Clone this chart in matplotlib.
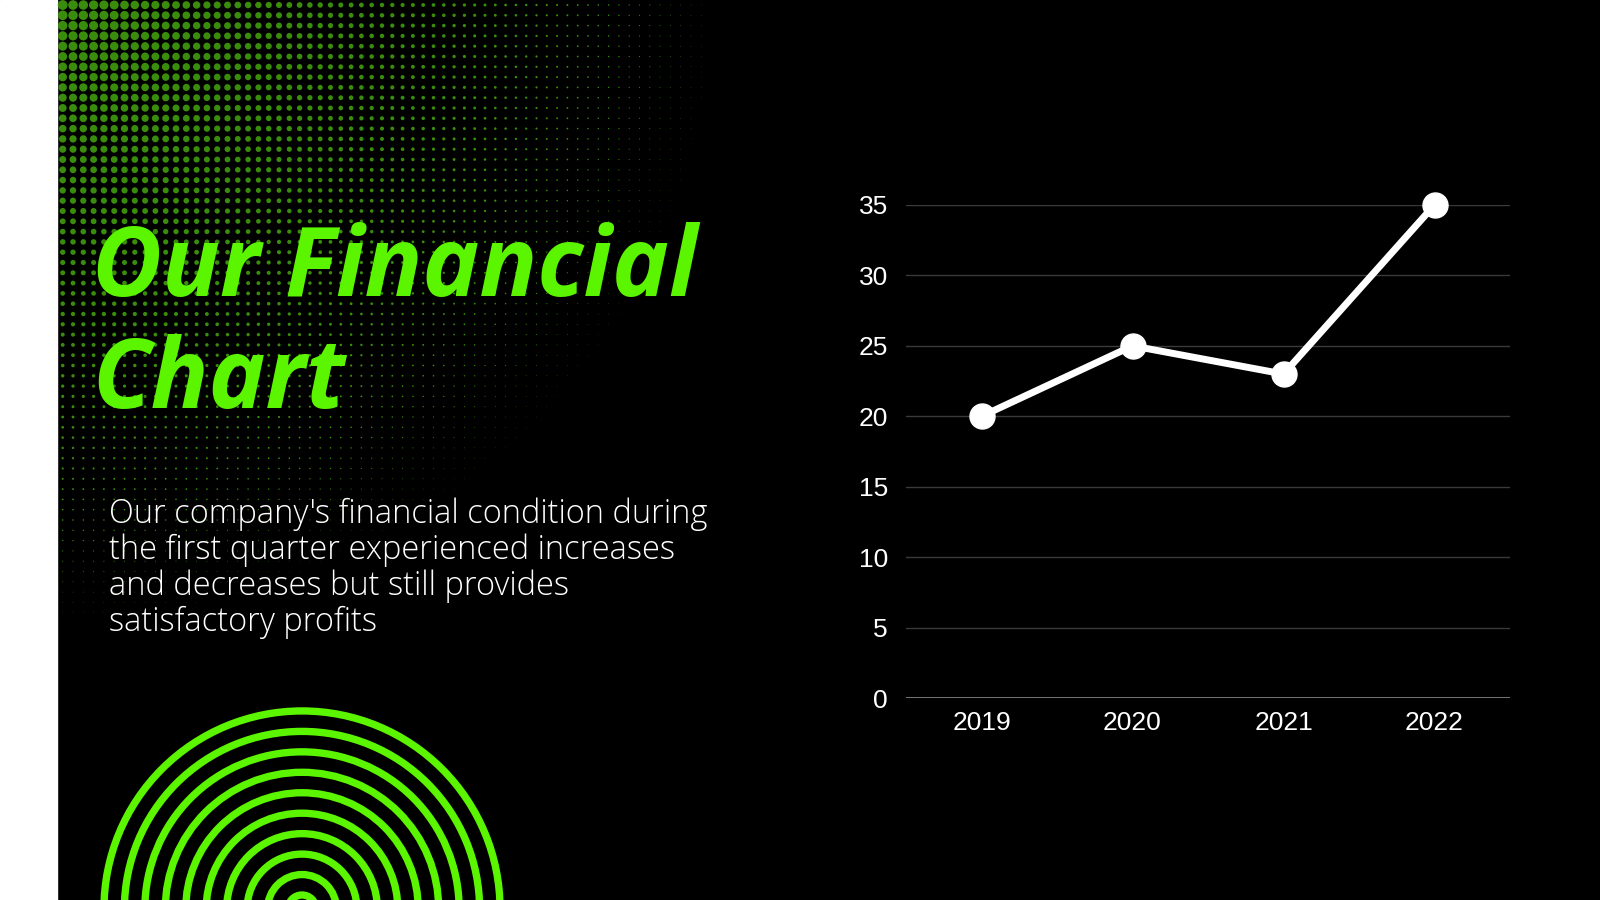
import numpy as np
import matplotlib
matplotlib.use("Agg")
import matplotlib.pyplot as plt
from matplotlib.patches import Rectangle, Circle

# chart data
years = ["2019", "2020", "2021", "2022"]
values = [20, 25, 23, 35]
yticks = [0, 5, 10, 15, 20, 25, 30, 35]

title_lines = ["Our Financial", "Chart"]
body_lines = [
    "Our company's financial condition during",
    "the first quarter experienced increases",
    "and decreases but still provides",
    "satisfactory profits",
]

GREEN = "#5cf500"
DOT_GREEN = "#3a8c0c"

fig = plt.figure(figsize=(16, 9), dpi=100, facecolor="black")

# background layer in pixel coordinates
bg = fig.add_axes([0, 0, 1, 1])
bg.set_xlim(0, 1600)
bg.set_ylim(900, 0)
bg.axis("off")
bg.add_patch(Rectangle((0, 0), 57, 900, color="white", zorder=0))

# halftone dots fading from the top left corner
gx, gy = np.meshgrid(np.arange(62.7, 800, 10.3), np.arange(5, 760, 10.3))
d = np.sqrt(((gx - 57) / 740.0) ** 2 + (gy / 700.0) ** 2)
r = 5.0 * np.clip(1 - d, 0, None) ** 1.4
keep = r > 0.25
bg.scatter(gx[keep], gy[keep], s=(1.44 * r[keep]) ** 2, color=DOT_GREEN,
           linewidths=0, zorder=1)

# concentric rings at bottom left
for k in range(10):
    rad = 14 + k * 20.45
    bg.add_patch(Circle((302, 909), rad, fill=False, edgecolor=GREEN,
                        linewidth=5.3, zorder=2))

# title
for i, line in enumerate(title_lines):
    bg.text(92, 296 + i * 112, line, color=GREEN, fontsize=69,
            family="Open Sans", weight="bold", style="italic",
            ha="left", va="baseline", zorder=3)

# body text
for i, line in enumerate(body_lines):
    bg.text(109, 523 + i * 36, line, color="white", fontsize=23.5,
            family="Open Sans", weight="light",
            ha="left", va="baseline", zorder=3)

# line chart
ax = fig.add_axes([906 / 1600, 1 - 698 / 900, 604 / 1600, (698 - 205) / 900])
ax.set_facecolor("none")
x = np.arange(len(years))
ax.set_xlim(-0.5, len(years) - 0.5)
ax.set_ylim(0, 35)
ax.set_yticks(yticks)
ax.set_xticks(x)
ax.set_xticklabels(years)
for s in ax.spines.values():
    s.set_visible(False)
for t in yticks[1:]:
    ax.axhline(t, color="#3a3a3a", linewidth=1.0, zorder=1)
ax.axhline(0, color="#8a8a8a", linewidth=1.2, zorder=1)
ax.tick_params(axis="both", length=0, colors="white", labelsize=19)
ax.tick_params(axis="y", pad=13)
ax.tick_params(axis="x", pad=9)
for lab in ax.get_xticklabels() + ax.get_yticklabels():
    lab.set_family("Liberation Sans")
ax.plot(x, values, color="white", linewidth=5, marker="o", markersize=18,
        clip_on=False, zorder=3)

fig.savefig("out.png", dpi=100, facecolor="black")
